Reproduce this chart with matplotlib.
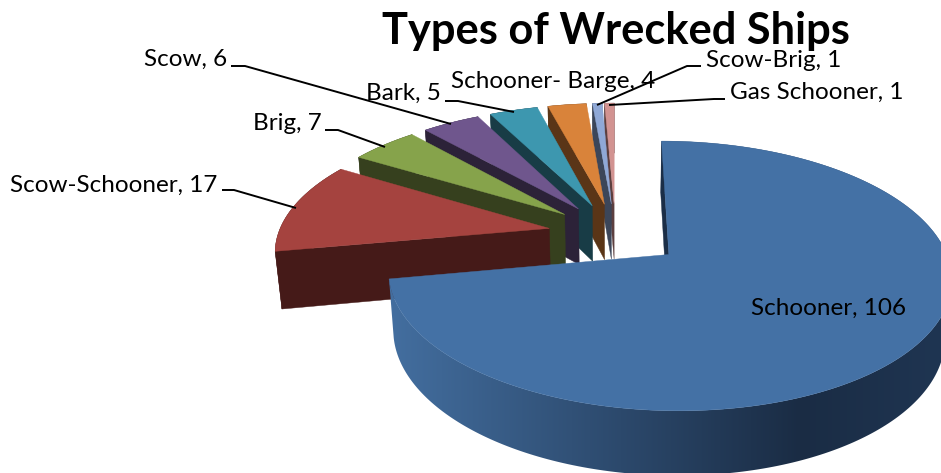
import matplotlib
matplotlib.use("Agg")
import matplotlib.pyplot as plt
from matplotlib.patches import Polygon
import numpy as np

ship_types = ["Schooner", "Scow-Schooner", "Brig", "Scow", "Bark",
              "Schooner- Barge", "Scow-Brig", "Gas Schooner"]
ship_counts = [106, 17, 7, 6, 5, 4, 1, 1]

top_colors = ["#4471A5", "#A5433F", "#86A34B", "#6F568D", "#3D97AF", "#D9833A", "#8FA8D6", "#D29391"]
wall_colors = ["#1B2E47", "#451A18", "#36401E", "#2C2238", "#183C46", "#5A3517", "#3C4659", "#5C3F3F"]

# pseudo 3d view, fitted to the reference (pixels)
cx, cy = 615.5, 234.0
rx, ry = 271.0, 125.0
persp = 0.155
depth = 58.0
depth_shrink = 0.02
explode = 0.25


def project(x, y, bottom=False):
    s = 1.0 / (1.0 + persp * y + (depth_shrink if bottom else 0.0))
    px = cx + rx * x * s
    py = cy - ry * y * s
    if bottom:
        py = py + depth * s
    return px, py


def side_color(px):
    # schooner rim gets darker to the right
    left = np.array(matplotlib.colors.to_rgb("#436E9F"))
    mid = np.array(matplotlib.colors.to_rgb("#1A2C44"))
    right = np.array(matplotlib.colors.to_rgb("#1F3552"))
    if px < 800:
        t = max(px - 392, 0) / 408.0
        return tuple(left + (mid - left) * t)
    t = min((px - 800) / 140.0, 1.0)
    return tuple(mid + (right - mid) * t)


def draw_slice(ax, start, end, top, wall, zorder, rim_gradient=False):
    mid = (start + end) / 2
    ox = explode * np.sin(mid)
    oy = explode * np.cos(mid)
    n = max(int((end - start) * 60), 4)
    ang = np.linspace(start, end, n)
    ex = ox + np.sin(ang)
    ey = oy + np.cos(ang)

    # outer rim
    tx, ty = project(ex, ey)
    bx, by = project(ex, ey, bottom=True)
    rim = np.c_[np.r_[tx, bx[::-1]], np.r_[ty, by[::-1]]]
    if rim_gradient:
        grad = np.array([[side_color(px) for px in np.arange(941)]])
        im = ax.imshow(grad, extent=(0, 941, 473, 0), aspect="auto", zorder=zorder)
        im.set_clip_path(Polygon(rim, transform=ax.transData))
    else:
        ax.fill(rim[:, 0], rim[:, 1], facecolor=wall, edgecolor=wall, linewidth=0.3, zorder=zorder)

    # the wall on the start edge is the one facing us
    wall_x = np.array([ox, ex[0]])
    wall_y = np.array([oy, ey[0]])
    wtx, wty = project(wall_x, wall_y)
    wbx, wby = project(wall_x, wall_y, bottom=True)
    ax.fill([wtx[0], wtx[1], wbx[1], wbx[0]], [wty[0], wty[1], wby[1], wby[0]],
            facecolor=wall, edgecolor=wall, linewidth=0.3, zorder=zorder + 0.1)

    # top face
    ax0, ay0 = project(ox, oy)
    ax.fill(np.r_[ax0, tx], np.r_[ay0, ty], facecolor=top, edgecolor=top, linewidth=0.3, zorder=zorder + 0.2)


fig = plt.figure(figsize=(9.41, 4.73), dpi=100)
ax = fig.add_axes([0, 0, 1, 1])
ax.axis("off")

edges = np.r_[0, np.cumsum(ship_counts)] / float(sum(ship_counts)) * 2 * np.pi
for i in range(len(ship_counts)):
    # back slices first, the big one last
    draw_slice(ax, edges[i], edges[i + 1], top_colors[i], wall_colors[i],
               zorder=len(ship_counts) - i + (10 if i == 0 else 0), rim_gradient=i == 0)

ax.set_xlim(0, 941)
ax.set_ylim(473, 0)

plt.rcParams["font.family"] = ["Lato", "DejaVu Sans"]

ax.text(616, 44, "Types of Wrecked Ships", ha="center", va="baseline", fontsize=31.2,
        fontweight="bold", color="black", zorder=30)

# label anchors in pixels: left x, baseline y
label_pos = [(751, 315), (10, 192), (253, 130), (144, 66), (366, 100), (451, 88), (706, 67), (730, 99)]
leaders = [None,
           [(222, 190), (234, 190), (296, 208)],
           [(325, 130), (338, 130), (385, 147)],
           [(231, 66), (245, 66), (451, 124)],
           [(445, 101), (458, 101), (514, 112)],
           None,
           [(701, 66), (687, 66), (597, 105)],
           [(725, 99), (714, 99), (609, 105)]]

for i in range(len(ship_types)):
    ax.text(label_pos[i][0], label_pos[i][1], ship_types[i] + ", " + str(ship_counts[i]),
            ha="left", va="baseline", fontsize=17.45, color="black", zorder=30)
    if leaders[i] is not None:
        ax.plot([p[0] for p in leaders[i]], [p[1] for p in leaders[i]], color="black",
                linewidth=1.4, zorder=29, solid_capstyle="butt")

fig.savefig("out.png", dpi=100)
